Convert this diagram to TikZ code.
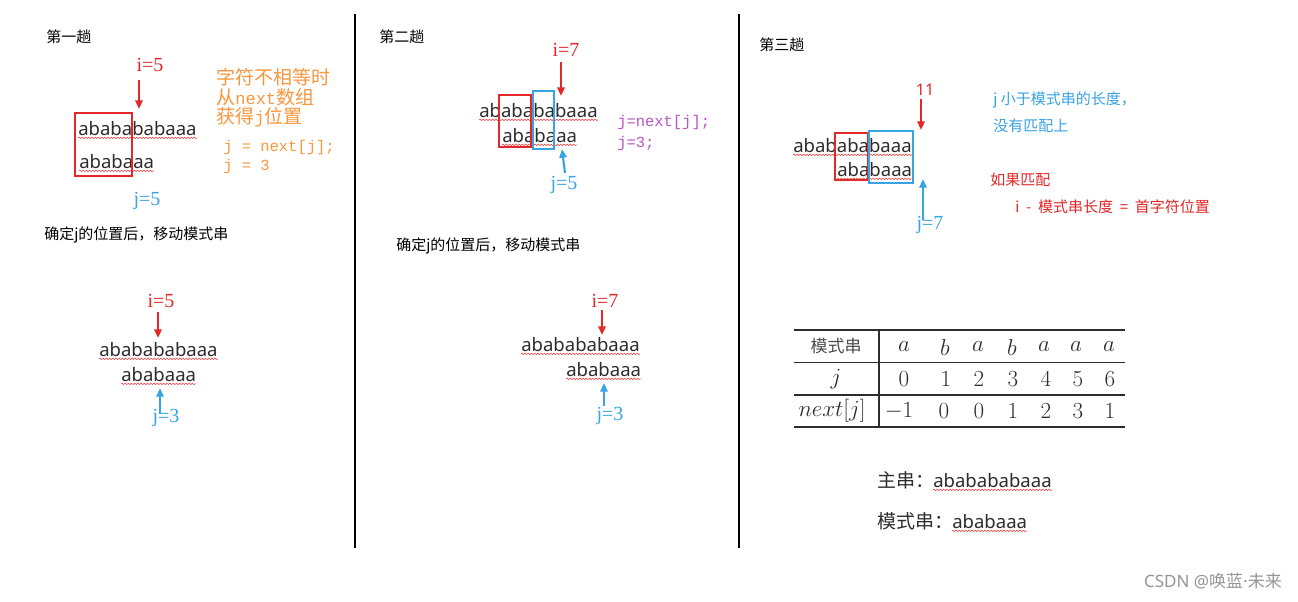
\documentclass[tikz,border=0pt]{standalone}
\usepackage[no-math]{fontspec}
\setmainfont{Noto Sans}
\newfontfamily\cjk{Noto Sans CJK SC}
\newfontfamily\monof{Liberation Mono}
\newfontfamily\serf{Liberation Serif}
\newfontfamily\latinf{Noto Sans}
\usetikzlibrary{arrows.meta,decorations.pathmorphing}
\definecolor{myred}{RGB}{226,40,40}
\definecolor{myblue}{RGB}{56,164,228}
\definecolor{myorange}{RGB}{250,150,62}
\definecolor{mypurple}{RGB}{185,85,195}
\definecolor{txt}{RGB}{45,45,45}
\definecolor{wavyred}{RGB}{240,70,70}
\definecolor{wmgray}{RGB}{150,150,150}
\begin{document}
\begin{tikzpicture}[x=0.75pt,y=-0.75pt,
  str/.style={anchor=base west,inner sep=0pt,text=txt,font=\fontsize{13.9}{16}\selectfont},
  title/.style={anchor=west,inner sep=0pt,text=black,font=\cjk\fontsize{11.25}{13}\selectfont},
  idxr/.style={inner sep=0pt,text=myred,font=\serf\fontsize{15}{17}\selectfont},
  idxb/.style={inner sep=0pt,text=myblue,font=\serf\fontsize{15}{17}\selectfont},
  note/.style={anchor=west,inner sep=0pt,font=\cjk\fontsize{11.25}{13}\selectfont},
  onote/.style={anchor=west,inner sep=0pt,text=myorange,font=\cjk\fontsize{14.25}{16}\selectfont},
  code/.style={anchor=west,inner sep=0pt,font=\monof\fontsize{11.6}{13}\selectfont},
  redarr/.style={draw=myred,line width=1.6pt,-{Triangle[length=6.5pt,width=5.5pt]}},
  bluearr/.style={draw=myblue,line width=1.6pt,-{Triangle[length=6.5pt,width=5.5pt]}},
  redbox/.style={draw=myred,line width=1.2pt},
  bluebox/.style={draw=myblue,line width=1.2pt},
  wavy/.style={draw=wavyred,line width=0.45pt,decorate,decoration={snake,amplitude=0.55pt,segment length=2.4pt}},
  cell/.style={inner sep=0pt,text=txt,font=\fontsize{16}{18}\selectfont},
  big/.style={anchor=base west,inner sep=0pt,text=txt,font=\cjk\fontsize{14.25}{16}\selectfont},
]
\useasboundingbox (0,0) rectangle (1298,601);
\fill[white] (0,0) rectangle (1298,601);

% dividers
\draw[line width=1.6pt,black] (355,14) -- (355,548);
\draw[line width=1.6pt,black] (739,14) -- (739,548);

% ---------------- Panel 1 ----------------
\node[title] (t1) at (46,37) {第一趟};
\node[idxr] (i1) at (150,65) {i=5};
\coordinate (a1s) at (139,80);
\coordinate (a1e) at (139,109);
\draw[redarr] (a1s) -- (a1e);
\node[str] (s1a) at (78,135) {ababababaaa};
\node[str] (s1b) at (79,168) {ababaaa};
\draw[wavy] ([yshift=-1.8pt]s1a.south west) -- ([yshift=-1.8pt]s1a.south east);
\draw[wavy] ([yshift=-1.8pt]s1b.south west) -- ([yshift=-1.8pt]s1b.south east);
\draw[redbox] (75,113) rectangle (132,176);
\node[onote] (o1) at (216,77) {字符不相等时};
\node[onote] (o2) at (216,97) {从{\monof\fontsize{12.8}{15}\selectfont next}数组};
\node[onote] (o3) at (216,117) {获得{\monof\fontsize{12.8}{15}\selectfont j}位置};
\node[code,text=myorange] (c1) at (223,147) {j = next[j];};
\node[code,text=myorange] (c2) at (223,166) {j = 3};
\node[idxb] (j1) at (147,201) {j=5};

\node[title] (m1) at (44,235) {确定j的位置后，移动模式串};
\node[idxr] (i1b) at (161,301) {i=5};
\coordinate (a2s) at (158,312);
\coordinate (a2e) at (158,338);
\draw[redarr] (a2s) -- (a2e);
\node[str] (s2a) at (99,356) {ababababaaa};
\node[str] (s2b) at (121,381) {ababaaa};
\draw[wavy] ([yshift=-1.8pt]s2a.south west) -- ([yshift=-1.8pt]s2a.south east);
\draw[wavy] ([yshift=-1.8pt]s2b.south west) -- ([yshift=-1.8pt]s2b.south east);
\node[idxb] (j1b) at (166,418) {j=3};
\coordinate (b2s) at (160,414);
\coordinate (b2e) at (160,388);
\draw[bluearr] (b2s) -- (b2e);

% ---------------- Panel 2 ----------------
\node[title] (t2) at (379,37) {第二趟};
\node[idxr] (i2) at (566,50) {i=7};
\coordinate (a3s) at (561,62);
\coordinate (a3e) at (561,96);
\draw[redarr] (a3s) -- (a3e);
\node[str] (s3a) at (479,117) {ababababaaa};
\node[str] (s3b) at (502,142) {ababaaa};
\draw[wavy] ([yshift=-1.8pt]s3a.south west) -- ([yshift=-1.8pt]s3a.south east);
\draw[wavy] ([yshift=-1.8pt]s3b.south west) -- ([yshift=-1.8pt]s3b.south east);
\draw[redbox] (499,95) rectangle (531,147);
\draw[bluebox] (533,91) rectangle (554,149);
\coordinate (b3s) at (565,173);
\coordinate (b3e) at (562,149);
\draw[bluearr] (b3s) -- (b3e);
\node[idxb] (j2) at (564,185) {j=5};
\node[code,text=mypurple] (p1) at (617,122) {j=next[j];};
\node[code,text=mypurple] (p2) at (617,143) {j=3;};

\node[title] (m2) at (396,246) {确定j的位置后，移动模式串};
\node[idxr] (i2b) at (605,301) {i=7};
\coordinate (a4s) at (602,310);
\coordinate (a4e) at (602,335);
\draw[redarr] (a4s) -- (a4e);
\node[str] (s4a) at (521,351) {ababababaaa};
\node[str] (s4b) at (566,376) {ababaaa};
\draw[wavy] ([yshift=-1.8pt]s4a.south west) -- ([yshift=-1.8pt]s4a.south east);
\draw[wavy] ([yshift=-1.8pt]s4b.south west) -- ([yshift=-1.8pt]s4b.south east);
\coordinate (b4s) at (604,406);
\coordinate (b4e) at (604,383);
\draw[bluearr] (b4s) -- (b4e);
\node[idxb] (j2b) at (610,416) {j=3};

% ---------------- Panel 3 ----------------
\node[title] (t3) at (759,45) {第三趟};
\node[inner sep=0pt,text=myred,font=\fontsize{12}{14}\selectfont] (n11) at (925,90) {11};
\coordinate (a5s) at (921,99);
\coordinate (a5e) at (921,130);
\draw[redarr] (a5s) -- (a5e);
\node[str] (s5a) at (793,152) {ababababaaa};
\node[str] (s5b) at (837,176) {ababaaa};
\draw[wavy] ([yshift=-1.8pt]s5a.south west) -- ([yshift=-1.8pt]s5a.south east);
\draw[wavy] ([yshift=-1.8pt]s5b.south west) -- ([yshift=-1.8pt]s5b.south east);
\draw[redbox] (835,133) rectangle (868,180);
\draw[bluebox] (869,131) rectangle (913,183);
\coordinate (b5s) at (923,220);
\coordinate (b5e) at (923,179);
\draw[bluearr] (b5s) -- (b5e);
\node[idxb] (j3) at (930,225) {j=7};
\node[note,text=myblue] (q1) at (993,100) {j 小于模式串的长度，};
\node[note,text=myblue] (q2) at (993,126) {没有匹配上};
\node[note,text=myred] (r1) at (990,180) {如果匹配};
\node[note,text=myred] (r2) at (1015,207) {i\ \ -\ \ 模式串长度\ \ =\ \ 首字符位置};

% table
\draw[line width=1pt,txt] (794,330) -- (1125,330);
\draw[line width=0.8pt,txt] (794,362.5) -- (1125,362.5);
\draw[line width=0.8pt,txt] (794,395) -- (1125,395);
\draw[line width=1pt,txt] (794,427) -- (1125,427);
\draw[line width=1pt,txt] (879,330) -- (879,427);
\node[cell,font=\cjk\fontsize{12.75}{14}\selectfont,text=black!70] (h0) at (836,346) {模式串};
\node[cell] (h1) at (904,347) {$a$};
\node[cell] (h2) at (945,347) {$b$};
\node[cell] (h3) at (978,347) {$a$};
\node[cell] (h4) at (1012,347) {$b$};
\node[cell] (h5) at (1044,347) {$a$};
\node[cell] (h6) at (1076,347) {$a$};
\node[cell] (h7) at (1109,347) {$a$};
\node[cell] (r0) at (836,379) {$j$};
\node[cell] (r1c) at (904,379) {$0$};
\node[cell] (r2c) at (946,379) {$1$};
\node[cell] (r3c) at (979,379) {$2$};
\node[cell] (r4c) at (1013,379) {$3$};
\node[cell] (r5c) at (1046,379) {$4$};
\node[cell] (r6c) at (1078,379) {$5$};
\node[cell] (r7c) at (1110,379) {$6$};
\node[cell] (x0) at (832,411) {$next[j]$};
\node[cell] (x1) at (899,411) {$-1$};
\node[cell] (x2) at (944,411) {$0$};
\node[cell] (x3) at (979,411) {$0$};
\node[cell] (x4) at (1013,411) {$1$};
\node[cell] (x5) at (1046,411) {$2$};
\node[cell] (x6) at (1078,411) {$3$};
\node[cell] (x7) at (1110,411) {$1$};

% bottom texts
\node[big] (zl) at (877,487) {主串：};
\node[str] (zs) at (933,487) {ababababaaa};
\draw[wavy] ([yshift=-1.8pt]zs.south west) -- ([yshift=-1.8pt]zs.south east);
\node[big] (ml) at (877,528) {模式串：};
\node[str] (ms) at (952,528) {ababaaa};
\draw[wavy] ([yshift=-1.8pt]ms.south west) -- ([yshift=-1.8pt]ms.south east);

% watermark
\node[anchor=east,inner sep=0pt,text=wmgray,font=\cjk\fontsize{12.75}{14}\selectfont] (wm) at (1282,581) {{\latinf CSDN @}唤蓝{\latinf ·}未来};
\end{tikzpicture}
\end{document}
